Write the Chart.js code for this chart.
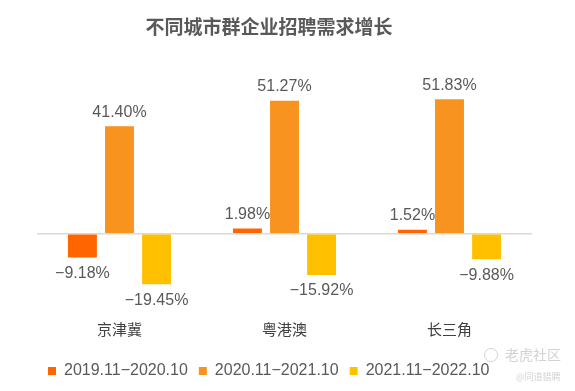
<!DOCTYPE html>
<html>
<head>
<meta charset="utf-8">
<script src="https://cdn.jsdelivr.net/npm/chart.js@4/dist/chart.umd.min.js"></script>
<style>
  html, body { margin: 0; padding: 0; background: #fff; }
  #wrap { width: 575px; height: 391px; position: relative; }
</style>
</head>
<body>
<div id="wrap"><canvas id="chart"></canvas></div>
<script>
const titleText = '不同城市群企业招聘需求增长';
const categories = ['京津冀', '粤港澳', '长三角'];
const seriesNames = ['2019.11−2020.10', '2020.11−2021.10', '2021.11−2022.10'];
const series2019 = [-9.18, 1.98, 1.52];
const series2020 = [41.40, 51.27, 51.83];
const series2021 = [-19.45, -15.92, -9.88];
const colors = ['#FF6600', '#F7931E', '#FFC000'];

const FONT = '"Liberation Sans", Arial, "Noto Sans CJK SC", sans-serif';

// title, value labels, watermark
const extras = {
  id: 'extras',
  afterDatasetsDraw(chart) {
    const ctx = chart.ctx;
    ctx.save();
    ctx.textAlign = 'center';
    ctx.textBaseline = 'middle';
    ctx.fillStyle = '#595959';
    ctx.font = 'bold 19px ' + FONT;
    ctx.fillText(titleText, 269, 29);

    ctx.font = '16px ' + FONT;
    chart.data.datasets.forEach((ds, i) => {
      const meta = chart.getDatasetMeta(i);
      meta.data.forEach((bar, j) => {
        const v = ds.data[j];
        const txt = (v < 0 ? '\u2212' : '') + Math.abs(v).toFixed(2) + '%';
        const y = v >= 0 ? bar.y - 14 : bar.y + 16;
        ctx.fillText(txt, bar.x, y);
      });
    });

    // watermark
    ctx.fillStyle = '#d2d2d2';
    ctx.strokeStyle = '#d2d2d2';
    ctx.lineWidth = 1;
    ctx.beginPath();
    ctx.arc(491, 355, 6.5, 0, Math.PI * 2);
    ctx.stroke();
    ctx.textAlign = 'left';
    ctx.font = '14px "Noto Sans CJK SC", sans-serif';
    ctx.fillText('老虎社区', 505, 355);
    ctx.font = '9px "Noto Sans CJK SC", sans-serif';
    ctx.fillText('@同道猎聘', 516, 377);
    ctx.restore();
  }
};

new Chart(document.getElementById('chart'), {
  type: 'bar',
  data: {
    labels: categories,
    datasets: [
      { label: seriesNames[0], data: series2019, backgroundColor: colors[0] },
      { label: seriesNames[1], data: series2020, backgroundColor: colors[1] },
      { label: seriesNames[2], data: series2021, backgroundColor: colors[2] }
    ]
  },
  options: {
    responsive: true,
    maintainAspectRatio: false,
    animation: false,
    layout: { padding: { top: 78, left: 37, right: 43, bottom: 2 } },
    datasets: { bar: { categoryPercentage: 0.674, barPercentage: 0.78 } },
    scales: {
      x: {
        grid: { display: false },
        border: { display: false },
        ticks: { color: '#404040', font: { size: 15, family: FONT }, padding: 2 },
        afterFit: (s) => { s.height += 10.5; }
      },
      y: {
        min: -30,
        max: 60,
        ticks: { display: false, stepSize: 10 },
        border: { display: false },
        grid: {
          drawTicks: false,
          color: (c) => (c.tick && c.tick.value === 0 ? '#d9d9d9' : 'rgba(0,0,0,0)'),
          lineWidth: 1.5
        }
      }
    },
    plugins: {
      title: { display: false },
      tooltip: { enabled: false },
      legend: {
        position: 'bottom',
        align: 'start',
        labels: {
          boxWidth: 8,
          boxHeight: 8,
          padding: 11,
          color: '#595959',
          font: { size: 16, family: FONT }
        }
      }
    }
  },
  plugins: [extras]
});
</script>
</body>
</html>
